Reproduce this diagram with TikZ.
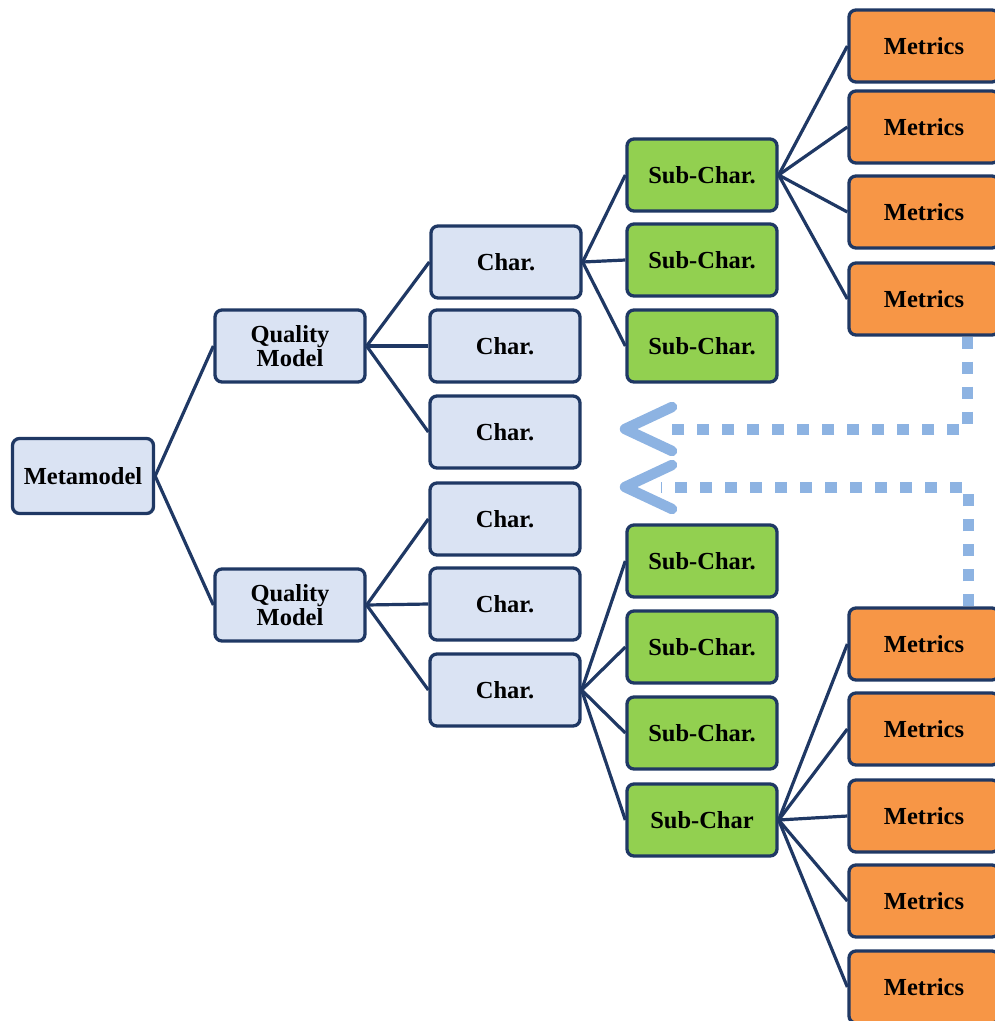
\documentclass[tikz,border=0pt]{standalone}
\usepackage{fontspec}
\setmainfont{Liberation Serif}
\definecolor{navy}{HTML}{1F3864}
\definecolor{paleblue}{HTML}{DAE3F3}
\definecolor{leafgreen}{HTML}{92D050}
\definecolor{metricorange}{HTML}{F79646}
\definecolor{flowblue}{HTML}{8DB3E2}
\begin{document}
\begin{tikzpicture}[x=1pt,y=-1pt,
  box/.style={draw=navy, line width=3.3pt, rounded corners=7pt,
    minimum width=150pt, minimum height=72pt, inner sep=0pt,
    align=center, text=black,
    font=\fontsize{24.5}{23.5}\selectfont\bfseries},
  model/.style={box, fill=paleblue},
  charbox/.style={box, fill=paleblue},
  subbox/.style={box, fill=leafgreen},
  metricbox/.style={box, fill=metricorange},
  link/.style={draw=navy, line width=3.2pt},
  flow/.style={draw=flowblue, line width=11pt, dash pattern=on 12pt off 13pt},
  chevron/.style={draw=flowblue, line width=10.5pt, line cap=round, line join=round}]
\useasboundingbox (0,0) rectangle (995,1021);
\clip (0,0) rectangle (995,1021);

% root and quality models
\node[model, minimum width=141pt, minimum height=75pt] (meta) at (83,476) {Metamodel};
\node[model] (qm1) at (290,346) {Quality\\Model};
\node[model] (qm2) at (290,605) {Quality\\Model};

% characteristics
\node[charbox] (c1) at (506,262) {Char.};
\node[charbox] (c2) at (505,346) {Char.};
\node[charbox] (c3) at (505,432) {Char.};
\node[charbox] (c4) at (505,519) {Char.};
\node[charbox] (c5) at (505,604) {Char.};
\node[charbox] (c6) at (505,690) {Char.};

% sub-characteristics
\node[subbox] (s1) at (702,175) {Sub-Char.};
\node[subbox] (s2) at (702,260) {Sub-Char.};
\node[subbox] (s3) at (702,346) {Sub-Char.};
\node[subbox] (s4) at (702,561) {Sub-Char.};
\node[subbox] (s5) at (702,647) {Sub-Char.};
\node[subbox] (s6) at (702,733) {Sub-Char.};
\node[subbox] (s7) at (702,820) {Sub-Char};

% metrics
\node[metricbox] (m1) at (924,46) {Metrics};
\node[metricbox] (m2) at (924,127) {Metrics};
\node[metricbox] (m3) at (924,212) {Metrics};
\node[metricbox] (m4) at (924,299) {Metrics};
\node[metricbox] (m5) at (924,644) {Metrics};
\node[metricbox] (m6) at (924,729) {Metrics};
\node[metricbox] (m7) at (924,816) {Metrics};
\node[metricbox] (m8) at (924,901) {Metrics};
\node[metricbox] (m9) at (924,987) {Metrics};

% tree connectors
\foreach \q in {qm1,qm2} \draw[link] (meta.east) -- (\q.west);
\foreach \c in {c1,c2,c3} \draw[link] (qm1.east) -- (\c.west);
\foreach \c in {c4,c5,c6} \draw[link] (qm2.east) -- (\c.west);
\foreach \s in {s1,s2,s3} \draw[link] (c1.east) -- (\s.west);
\foreach \s in {s4,s5,s6,s7} \draw[link] (c6.east) -- (\s.west);
\foreach \m in {m1,m2,m3,m4} \draw[link] (s1.east) -- (\m.west);
\foreach \m in {m5,m6,m7,m8,m9} \draw[link] (s7.east) -- (\m.west);

% feedback arrows from the metric groups
\coordinate (tip1) at (625,429);
\coordinate (bend1) at (967,429);
\coordinate (tip2) at (625,487);
\coordinate (bend2) at (968,487);
\draw[flow] (bend1 |- m4.south) -- (bend1) -- ([xshift=36pt]tip1);
\draw[flow] (bend2 |- m5.north) -- (bend2) -- ([xshift=36pt]tip2);
\draw[chevron] ([shift={(47,-22)}]tip1) -- (tip1) -- ([shift={(47,22)}]tip1);
\draw[chevron] ([shift={(47,-22)}]tip2) -- (tip2) -- ([shift={(47,22)}]tip2);
\end{tikzpicture}
\end{document}
